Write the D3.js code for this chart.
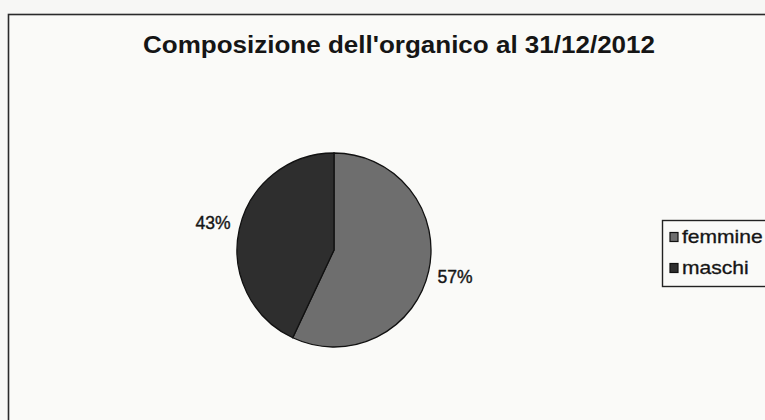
<!DOCTYPE html>
<html><head><meta charset="utf-8">
<script src="https://cdn.jsdelivr.net/npm/d3@7"></script>
<style>body{margin:0;background:#f7f7f5;}svg{display:block;}</style>
</head><body>
<script>
const title = "Composizione dell'organico al 31/12/2012";
const categories = ["femmine", "maschi"];
const values = [57, 43];
const colors = ["#6e6e6e", "#2e2e2e"];

const W = 765, H = 420;
const FONT = "Liberation Sans, Arial, sans-serif";
const svg = d3.select("body").append("svg").attr("width", W).attr("height", H);
svg.append("rect").attr("width", W).attr("height", H).attr("fill", "#f7f7f5");
// chart frame
svg.append("rect").attr("x", 8.5).attr("y", 14.5).attr("width", 800).attr("height", 450)
  .attr("fill", "#fafaf8").attr("stroke", "#2a2a2a").attr("stroke-width", 1.6);

svg.append("text").attr("x", 143).attr("y", 53)
  .attr("font-family", FONT).attr("font-weight", "bold")
  .attr("font-size", 23).attr("fill", "#151515").attr("textLength", 512).attr("lengthAdjust", "spacingAndGlyphs")
  .text(title);

const cx = 334, cy = 250, r = 97;
const pie = d3.pie().sort(null).value(d => d)(values);
const arc = d3.arc().innerRadius(0).outerRadius(r);
const g = svg.append("g").attr("transform", `translate(${cx},${cy})`);
g.selectAll("path").data(pie).join("path")
  .attr("d", arc).attr("fill", (d, i) => colors[i])
  .attr("stroke", "#111").attr("stroke-width", 1.3);

const labelArc = d3.arc().innerRadius(r + 27).outerRadius(r + 27);
const total = d3.sum(values);
g.selectAll("text").data(pie).join("text")
  .attr("transform", d => { const [x, y] = labelArc.centroid(d); return `translate(${x},${y})`; })
  .attr("text-anchor", "middle").attr("dy", "0.36em")
  .attr("font-family", FONT).attr("font-size", 17.5).attr("fill", "#151515")
  .attr("stroke", "#151515").attr("stroke-width", 0.4)
  .text(d => Math.round(d.data / total * 100) + "%");

// legend
const lg = svg.append("g");
lg.append("rect").attr("x", 662.5).attr("y", 220.5).attr("width", 120).attr("height", 66)
  .attr("fill", "#fafaf8").attr("stroke", "#222").attr("stroke-width", 1.4);
categories.forEach((c, i) => {
  const y = 237 + i * 31;
  lg.append("rect").attr("x", 670).attr("y", y - 4.5).attr("width", 8).attr("height", 9)
    .attr("fill", colors[i]).attr("stroke", "#111").attr("stroke-width", 1.2);
  lg.append("text").attr("x", 682).attr("y", y).attr("dy", "0.36em")
    .attr("font-family", FONT).attr("font-size", 18).attr("fill", "#151515")
    .attr("stroke", "#151515").attr("stroke-width", 0.3)
    .attr("transform", `translate(682,0) scale(1.17,1) translate(-682,0)`)
    .text(c);
});
</script>
</body></html>
